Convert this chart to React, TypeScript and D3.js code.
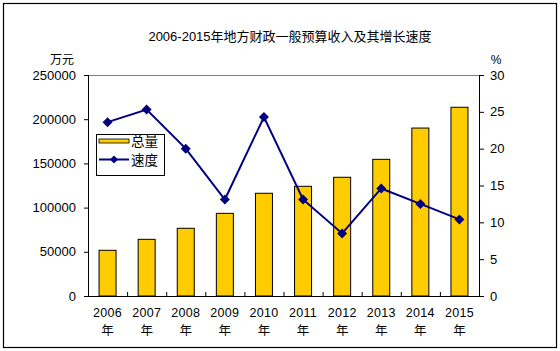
import * as React from "react";
import * as d3 from "d3";

const years = ["2006", "2007", "2008", "2009", "2010", "2011", "2012", "2013", "2014", "2015"];
const totals = [51700, 64100, 76600, 93500, 116200, 124100, 134300, 154600, 190000, 213500];
const growth = [23.6, 25.3, 20.0, 13.1, 24.3, 13.1, 8.5, 14.6, 12.5, 10.4];
const leftTicks = [0, 50000, 100000, 150000, 200000, 250000];
const rightTicks = [0, 5, 10, 15, 20, 25, 30];

const W = 560;
const H = 351;
const mTop = 75;
const mBottom = 296;
const mLeft = 88;
const mRight = 479;

const numFont = "'Liberation Sans', Arial, sans-serif";
const cjkFont = "'Liberation Sans', 'Noto Sans CJK SC', sans-serif";

const App: React.FC = () => {
  const x = d3.scaleBand<string>().domain(years).range([mLeft, mRight]);
  const yL = d3.scaleLinear().domain([0, 250000]).range([mBottom, mTop]);
  const yR = d3.scaleLinear().domain([0, 30]).range([mBottom, mTop]);
  const barW = 17;

  const line = d3
    .line<number>()
    .x((d, i) => x(years[i])! + x.bandwidth() / 2)
    .y((d) => yR(d));

  const diamond = (cx: number, cy: number, r: number) =>
    `M${cx},${cy - r}L${cx + r},${cy}L${cx},${cy + r}L${cx - r},${cy}Z`;

  return (
    <svg
      width={W}
      height={H}
      style={{ position: "absolute", left: 0, top: 0, background: "#fff" }}
    >
      <rect x={3.5} y={3.5} width={553} height={344} fill="#fff" stroke="#000" strokeWidth={1.2} />
      <text x={290} y={41} textAnchor="middle" fontFamily={cjkFont} fontSize={13} fill="#000">
        2006-2015年地方财政一般预算收入及其增长速度
      </text>

      {/* plot frame */}
      <line x1={mLeft} x2={mRight} y1={mTop + 0.5} y2={mTop + 0.5} stroke="#808080" />

      {/* bars */}
      {totals.map((v, i) => (
        <rect
          key={i}
          x={x(years[i])! + (x.bandwidth() - barW) / 2}
          y={yL(v)}
          width={barW}
          height={mBottom - yL(v)}
          fill="#FFCC00"
          stroke="#000"
          strokeWidth={1}
        />
      ))}

      {/* axes */}
      <line x1={mLeft + 0.5} x2={mLeft + 0.5} y1={mTop} y2={mBottom} stroke="#000" />
      <line x1={mRight + 0.5} x2={mRight + 0.5} y1={mTop} y2={mBottom} stroke="#000" />
      <line x1={mLeft} x2={mRight + 1} y1={mBottom + 0.5} y2={mBottom + 0.5} stroke="#000" />

      {leftTicks.map((t) => (
        <g key={t}>
          <line x1={mLeft - 4} x2={mLeft} y1={yL(t) + 0.5} y2={yL(t) + 0.5} stroke="#000" />
          <text x={76} y={yL(t) + 4.5} textAnchor="end" fontFamily={numFont} fontSize={13} fill="#000">
            {t}
          </text>
        </g>
      ))}
      {rightTicks.map((t) => (
        <g key={t}>
          <line x1={mRight} x2={mRight + 5} y1={yR(t) + 0.5} y2={yR(t) + 0.5} stroke="#000" />
          <text x={490} y={yR(t) + 4.5} textAnchor="start" fontFamily={numFont} fontSize={13} fill="#000">
            {t}
          </text>
        </g>
      ))}
      {years.slice(1).map((yr) => (
        <line key={yr} x1={x(yr)! + 0.5} x2={x(yr)! + 0.5} y1={mBottom - 4} y2={mBottom} stroke="#000" />
      ))}
      {years.map((yr) => (
        <g key={yr}>
          <text
            x={x(yr)! + x.bandwidth() / 2}
            y={317}
            textAnchor="middle"
            fontFamily={numFont}
            fontSize={12.5}
            letterSpacing={0.3}
            fill="#000"
          >
            {yr}
          </text>
          <text
            x={x(yr)! + x.bandwidth() / 2}
            y={335}
            textAnchor="middle"
            fontFamily={cjkFont}
            fontSize={12.5}
            fill="#000"
          >
            年
          </text>
        </g>
      ))}

      <text x={62} y={64} textAnchor="middle" fontFamily={cjkFont} fontSize={12} fill="#000">
        万元
      </text>
      <text x={496} y={64} textAnchor="middle" fontFamily={numFont} fontSize={12} fill="#000">
        %
      </text>

      {/* growth line */}
      <path d={line(growth) || undefined} fill="none" stroke="#000080" strokeWidth={2} />
      {growth.map((g, i) => (
        <path key={i} d={diamond(x(years[i])! + x.bandwidth() / 2, yR(g), 5)} fill="#000080" />
      ))}

      {/* legend */}
      <rect x={96.5} y={134.5} width={68} height={41} fill="#fff" stroke="#000" />
      <rect x={99} y={139} width={30} height={4} fill="#FFCC00" stroke="#000" strokeWidth={0.8} />
      <text x={131} y={146} fontFamily={cjkFont} fontSize={13.5} fill="#000">
        总量
      </text>
      <line x1={99} x2={129} y1={159.5} y2={159.5} stroke="#000080" strokeWidth={2} />
      <path d={diamond(114, 159.5, 4)} fill="#000080" />
      <text x={131} y={165} fontFamily={cjkFont} fontSize={13.5} fill="#000">
        速度
      </text>
    </svg>
  );
};

export default App;
